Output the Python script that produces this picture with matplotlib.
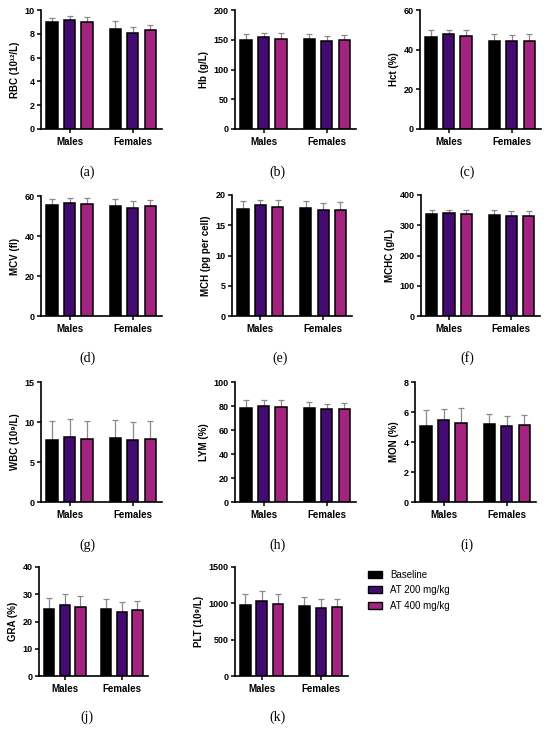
import matplotlib
matplotlib.use("Agg")
import matplotlib.pyplot as plt
from matplotlib.patches import Patch
import numpy as np

groups = ["Males", "Females"]
series = ["Baseline", "AT 200 mg/kg", "AT 400 mg/kg"]
colors = ["#000000", "#430a70", "#a3247f"]

# per panel: means[series][group], sd[series][group]
rbc_mean = [[8.95, 8.40], [9.15, 8.10], [9.00, 8.30]]
rbc_sd = [[0.40, 0.68], [0.35, 0.47], [0.40, 0.45]]
hb_mean = [[150, 151], [154, 148], [152, 149]]
hb_sd = [[9.5, 9.5], [7.5, 7.5], [9.0, 8.5]]
hct_mean = [[46.5, 44.2], [47.7, 44.2], [47.0, 44.2]]
hct_sd = [[3.3, 3.8], [2.4, 3.1], [2.8, 3.6]]
mcv_mean = [[55.3, 55.2], [56.5, 54.0], [55.8, 54.8]]
mcv_sd = [[3.4, 3.5], [2.7, 3.5], [3.0, 3.4]]
mch_mean = [[17.7, 17.8], [18.3, 17.6], [18.0, 17.6]]
mch_sd = [[1.3, 1.2], [0.9, 1.1], [1.1, 1.2]]
mchc_mean = [[337, 335], [340, 330], [338, 332]]
mchc_sd = [[14, 15], [11, 16], [13, 15]]
wbc_mean = [[7.7, 7.96], [8.1, 7.8], [7.9, 7.9]]
wbc_sd = [[2.4, 2.25], [2.3, 2.2], [2.25, 2.25]]
lym_mean = [[78.6, 78.6], [80.0, 77.2], [79.2, 77.8]]
lym_sd = [[6.7, 4.7], [5.3, 4.8], [6.1, 4.7]]
mon_mean = [[5.05, 5.20], [5.45, 5.07], [5.25, 5.12]]
mon_sd = [[1.07, 0.67], [0.75, 0.69], [1.02, 0.70]]
gra_mean = [[24.6, 24.6], [25.9, 23.5], [25.4, 24.1]]
gra_sd = [[4.1, 3.7], [4.2, 3.8], [4.1, 3.6]]
plt_mean = [[975, 960], [1030, 937], [988, 951]]
plt_sd = [[155, 128], [145, 128], [146, 114]]

panels = [
    ("RBC (10¹²/L)", 10, [0, 2, 4, 6, 8, 10], rbc_mean, rbc_sd, "(a)"),
    ("Hb (g/L)", 200, [0, 50, 100, 150, 200], hb_mean, hb_sd, "(b)"),
    ("Hct (%)", 60, [0, 20, 40, 60], hct_mean, hct_sd, "(c)"),
    ("MCV (fl)", 60, [0, 20, 40, 60], mcv_mean, mcv_sd, "(d)"),
    ("MCH (pg per cell)", 20, [0, 5, 10, 15, 20], mch_mean, mch_sd, "(e)"),
    ("MCHC (g/L)", 400, [0, 100, 200, 300, 400], mchc_mean, mchc_sd, "(f)"),
    ("WBC (10⁹/L)", 15, [0, 5, 10, 15], wbc_mean, wbc_sd, "(g)"),
    ("LYM (%)", 100, [0, 20, 40, 60, 80, 100], lym_mean, lym_sd, "(h)"),
    ("MON (%)", 8, [0, 2, 4, 6, 8], mon_mean, mon_sd, "(i)"),
    ("GRA (%)", 40, [0, 10, 20, 30, 40], gra_mean, gra_sd, "(j)"),
    ("PLT (10⁹/L)", 1500, [0, 500, 1000, 1500], plt_mean, plt_sd, "(k)"),
]

# pixel boxes: x0, x1, ytop, ybottom ; label center (x, y)
W, H = 550, 729
boxes = [
    (41, 162, 10, 129, 87, 172),
    (235, 356, 10, 129, 277, 172),
    (420, 541, 10, 129, 467, 172),
    (41, 162, 196, 316, 87, 358),
    (232, 352, 195, 316, 280, 358),
    (421, 540, 195, 316, 467, 358),
    (41, 162, 382, 502, 87, 545),
    (235, 356, 382, 502, 278, 545),
    (415, 536, 382, 502, 467, 545),
    (39, 148, 567, 676, 87, 717),
    (235, 348, 567, 676, 278, 717),
]

sans = ["Liberation Sans", "DejaVu Sans"]
serif = ["Liberation Serif", "DejaVu Serif"]

fig = plt.figure(figsize=(W / 100, H / 100), dpi=100)
fig.patch.set_facecolor("white")

gx = np.arange(len(groups))
offs = [-0.276, 0.0, 0.276]
bw = 0.178

for (ylab, ymax, yt, mean, sd, plab), (x0, x1, yt0, yb0, lx, ly) in zip(panels, boxes):
    ax = fig.add_axes([x0 / W, 1 - yb0 / H, (x1 - x0) / W, (yb0 - yt0) / H])
    for i in range(3):
        xs = gx + offs[i]
        ax.errorbar(xs, mean[i], yerr=[np.zeros(2), sd[i]], fmt="none",
                    ecolor="#8a8a8a", elinewidth=0.9, capsize=2.5, capthick=0.9, zorder=1)
        ax.bar(xs, mean[i], width=bw, color=colors[i], edgecolor="black",
               linewidth=1.1, zorder=2)
    ax.set_xlim(-0.45, 1.46)
    ax.set_ylim(0, ymax)
    ax.set_yticks(yt)
    ax.set_yticklabels([str(v) for v in yt], fontsize=6.5, fontweight="bold", family=sans)
    ax.set_xticks(gx)
    ax.set_xticklabels(groups, fontsize=7, fontweight="bold", family=sans)
    ax.set_ylabel(ylab, fontsize=7, fontweight="bold", family=sans, labelpad=3)
    for s in ["top", "right"]:
        ax.spines[s].set_visible(False)
    for s in ["left", "bottom"]:
        ax.spines[s].set_linewidth(1.2)
    ax.tick_params(axis="both", length=3, width=1.1, pad=1.5)
    ax.tick_params(axis="x", pad=2.5)
    ax.spines["bottom"].set_zorder(3)
    fig.text(lx / W, 1 - ly / H, plab, ha="center", va="center", fontsize=10, family=serif)

handles = [Patch(facecolor=c, edgecolor="black", linewidth=1.0) for c in colors]
fig.legend(handles, series, loc="upper left", bbox_to_anchor=(364 / W, 1 - 566 / H),
           frameon=False, prop={"family": sans, "size": 7}, handlelength=1.5,
           handleheight=0.7, handletextpad=0.8, labelspacing=0.55, borderaxespad=0)

fig.savefig("out.png", dpi=100, facecolor="white")
